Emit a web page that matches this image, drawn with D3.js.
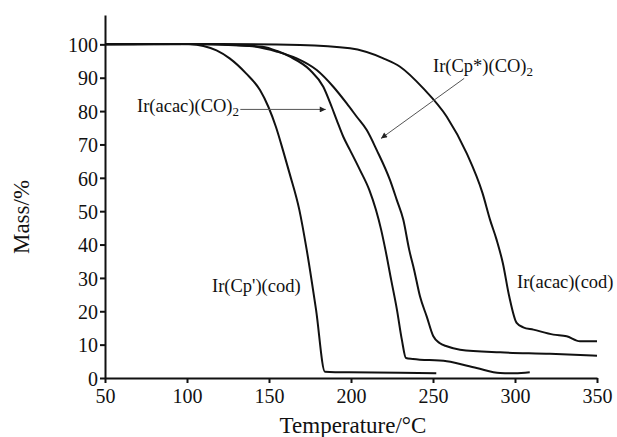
<!DOCTYPE html>
<meta charset="utf-8">
<title>TGA curves</title>
<style>
body {
  margin: 0;
  padding: 0;
  background: #fff;
}
svg text {
  font-family: 'Liberation Serif', 'Times New Roman', serif;
  fill: #111;
}
.axis .domain,
.axis .tick line {
  stroke: #111;
  stroke-width: 2;
}
.axis .tick text {
  font-size: 20px;
}
.curve {
  fill: none;
  stroke: #111;
  stroke-width: 2;
  stroke-linejoin: round;
}
.pointer {
  stroke: #555;
  stroke-width: 1;
}
</style>
<body>
<svg width="617" height="437"></svg>
<script src="https://d3js.org/d3.v7.min.js"></script>
<script>
// tick values
var xTicks = [50, 100, 150, 200, 250, 300, 350];
var yTicks = [0, 10, 20, 30, 40, 50, 60, 70, 80, 90, 100];

// [temperature, mass]
var cpCod = [[50,100],[78,100.1],[102,100],[110,99.5],[118,98.2],[126,95.8],[136,91.3],[144.5,86.3],
  [149.6,81.3],[154.2,75.3],[158.5,68.3],[162.5,61.4],[168.5,50.4],[173,38.4],[178.7,20.4],
  [184.1,1.9],[199,1.7],[230,1.6],[252,1.4]];

var acacCO = [[50,100],[100,100.1],[130,99.8],[146,99.3],[155,98],[162.8,96.3],[175,92.3],[183.1,87.3],
  [188.2,81.3],[191.3,77.3],[195.3,72.3],[199.4,68.3],[205.5,62.3],[211.2,56.3],[215.2,50.4],
  [218.4,44.4],[221,38.4],[224.5,29.4],[228,20.5],[231,11.5],[233.5,6],[237.8,5.7],
  [258.4,5],[276.6,3],[290.9,1.5],[300,1.4],[309,1.7]];

var cpStarCO = [[50,100],[100,100.1],[138,99.5],[155,97.8],[166.9,95.8],[179.1,92.3],[189.2,87.3],
  [197.4,82.3],[203.5,78.3],[209.6,74.3],[215.7,68.3],[223.8,59.3],[227.9,53.4],[231.9,47.4],
  [235.5,38.4],[238.5,32.4],[242.1,24.4],[246.2,18.4],[250.2,12.5],[254,10.5],[258.4,9.5],[266.5,8.5],
  [290.9,7.7],[321.3,7.3],[350,6.7]];

var acacCod = [[50,100],[120,100.1],[168.9,99.8],[199.4,98.8],[219.7,95.8],[229.9,93.3],[244.1,86.8],
  [258.4,78.3],[270.5,67.4],[280.2,55.4],[284.8,47.4],[288.8,41.4],[292.6,34.4],[296.5,24.4],
  [301,16.5],[305,15.2],[311.2,14.5],[323.4,13],[331.5,12.5],[339.6,11],[350,11]];

var svg = d3.select("svg"),
    margin = {top: 15, right: 20, bottom: 59, left: 105},
    width = +svg.attr("width") - margin.left - margin.right,
    height = +svg.attr("height") - margin.top - margin.bottom,
    g = svg.append("g").attr("transform", "translate(" + margin.left + "," + margin.top + ")");

svg.insert("rect", ":first-child").attr("width", 617).attr("height", 437).attr("fill", "#fff");

var x = d3.scaleLinear()
    .domain([50, 350])
    .range([0, 492]);

var y = d3.scaleLinear()
    .domain([0, 108.8])
    .range([height, 0]);

// axes
g.append("g")
    .attr("class", "axis")
    .attr("transform", "translate(0," + height + ")")
    .call(d3.axisBottom(x).tickValues(xTicks).tickSize(5).tickSizeOuter(0).tickPadding(6));

g.append("g")
    .attr("class", "axis")
    .call(d3.axisLeft(y).tickValues(yTicks).tickSize(5).tickSizeOuter(0).tickPadding(2))
    .selectAll(".tick text")
    .attr("dy", "0.36em");

// curves
var line = d3.line()
    .x(function(d) { return x(d[0]); })
    .y(function(d) { return y(d[1]); })
    .curve(d3.curveMonotoneX);

[cpCod, acacCO, cpStarCO, acacCod].forEach(function(s) {
  g.append("path")
    .attr("class", "curve")
    .attr("d", line(s));
});

// arrow marker
svg.append("defs").append("marker")
    .attr("id", "head")
    .attr("viewBox", "0 0 10 10")
    .attr("refX", 10)
    .attr("refY", 5)
    .attr("markerWidth", 9)
    .attr("markerHeight", 6)
    .attr("orient", "auto")
  .append("path")
    .attr("d", "M0,0L10,5L0,10z")
    .attr("fill", "#222");

// labels
function label(txt, sub, px, py) {
  var t = svg.append("text")
    .attr("x", px)
    .attr("y", py)
    .attr("font-size", "18.5px")
    .text(txt);
  if (sub) {
    t.append("tspan")
      .attr("dy", "4")
      .attr("font-size", "13px")
      .text(sub);
  }
  return t;
}

label("Ir(acac)(CO)", "2", 137, 112);
label("Ir(Cp*)(CO)", "2", 433, 72);
label("Ir(Cp')(cod)", null, 212, 292);
label("Ir(acac)(cod)", null, 517, 288);

// arrows (temperature / mass of tip)
g.append("line")
    .attr("class", "pointer")
    .attr("x1", x(132.5)).attr("y1", y(80.5))
    .attr("x2", x(184.6)).attr("y2", y(80.5))
    .attr("marker-end", "url(#head)");

g.append("line")
    .attr("class", "pointer")
    .attr("x1", x(269)).attr("y1", y(89.8))
    .attr("x2", x(218.3)).attr("y2", y(71.8))
    .attr("marker-end", "url(#head)");

// axis titles
svg.append("text")
    .attr("x", 353)
    .attr("y", 433)
    .attr("text-anchor", "middle")
    .attr("font-size", "23px")
    .text("Temperature/°C");

svg.append("text")
    .attr("transform", "translate(29,217) rotate(-90)")
    .attr("text-anchor", "middle")
    .attr("font-size", "23px")
    .text("Mass/%");
</script>
</body>
